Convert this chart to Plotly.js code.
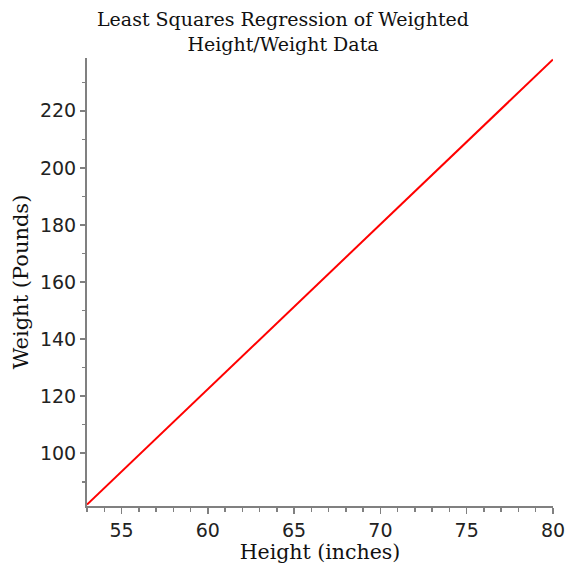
<!DOCTYPE html>
<html>
<head>
<meta charset="utf-8">
<script src="https://cdn.plot.ly/plotly-3.0.1.min.js"></script>
<style>html,body{margin:0;padding:0;background:#fff}#chart{width:566px;height:564px}</style>
</head>
<body>
<div id="chart"></div>
<script>
// Least-squares regression line endpoints (height in inches, weight in pounds)
const heights = [53, 80];
const weights = [82, 238];
const xTickVals = [55, 60, 65, 70, 75, 80];
const yTickVals = [100, 120, 140, 160, 180, 200, 220];

const trace = {
  x: heights,
  y: weights,
  type: 'scatter',
  mode: 'lines',
  line: {color: '#ff0000', width: 2},
  hoverinfo: 'skip'
};

const axisCommon = {
  showgrid: false,
  zeroline: false,
  showline: true,
  linecolor: '#808080',
  linewidth: 2,
  ticks: 'outside',
  tickcolor: '#808080',
  tickwidth: 1.5,
  mirror: false,
  tickfont: {family: 'DejaVu Sans', size: 19, color: '#222'}
};

const layout = {
  width: 566,
  height: 564,
  margin: {l: 87, r: 13, t: 58, b: 58},
  paper_bgcolor: '#fff',
  plot_bgcolor: '#fff',
  showlegend: false,
  title: {
    text: 'Least Squares Regression of Weighted<br>Height/Weight Data',
    font: {family: 'DejaVu Serif', size: 19, color: '#111'},
    x: 0.5, xanchor: 'center', y: 0.954, yanchor: 'middle'
  },
  xaxis: Object.assign({}, axisCommon, {
    range: [53, 80],
    tickvals: xTickVals,
    ticklen: 6,
    minor: {dtick: 1, tick0: 0, ticks: 'outside', ticklen: 4, tickcolor: '#808080', tickwidth: 1.5},
    title: {text: 'Height (inches)', font: {family: 'DejaVu Serif', size: 20.5, color: '#111'}, standoff: 3}
  }),
  yaxis: Object.assign({}, axisCommon, {
    range: [81.5, 238.5],
    tickvals: yTickVals,
    ticklen: 5,
    minor: {dtick: 10, tick0: 0, ticks: 'outside', ticklen: 3, tickcolor: '#808080', tickwidth: 1.5},
    title: {text: 'Weight (Pounds)', font: {family: 'DejaVu Serif', size: 21, color: '#111'}, standoff: 6}
  })
};

Plotly.newPlot('chart', [trace], layout, {displayModeBar: false, staticPlot: true});
</script>
</body>
</html>
